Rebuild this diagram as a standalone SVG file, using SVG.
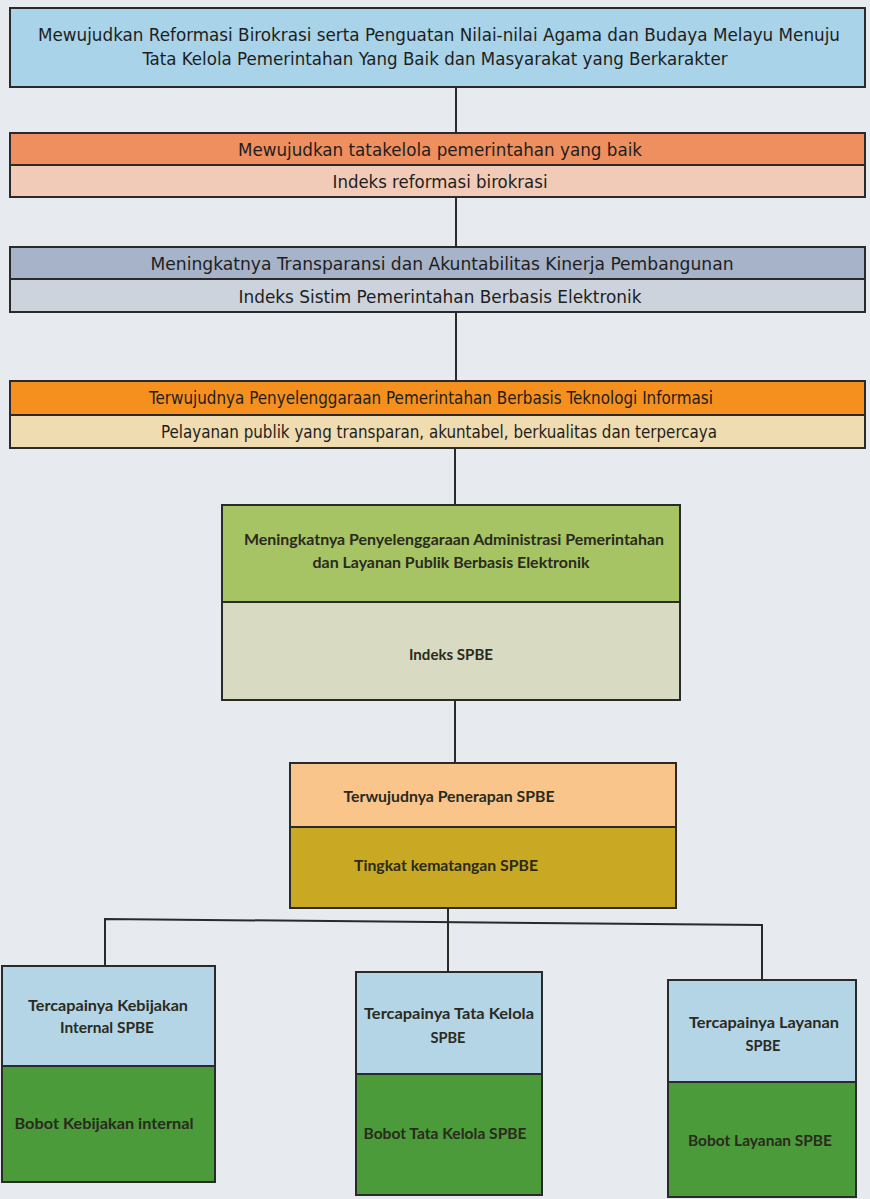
<svg xmlns="http://www.w3.org/2000/svg" width="870" height="1199" viewBox="0 0 870 1199">
<style>
.b{stroke:#2a2a2a;stroke-width:2}
.c{stroke:#2a2a2a;stroke-width:2;fill:none}
.t{font-family:"DejaVu Sans Condensed","DejaVu Sans",sans-serif;font-stretch:condensed;font-size:18px;fill:#1e1e1e;text-anchor:middle}
.s{font-family:Lato,"Open Sans",sans-serif;font-weight:bold;font-size:16px;fill:#2a2a1e;text-anchor:middle}
</style>
<rect width="870" height="1199" fill="#e7ebef"/>
<g id="connectors">
<line class="c" x1="456" y1="87" x2="456" y2="133"/>
<line class="c" x1="456" y1="197" x2="456" y2="247"/>
<line class="c" x1="456" y1="312" x2="456" y2="381"/>
<line class="c" x1="455" y1="448" x2="455" y2="505"/>
<line class="c" x1="455" y1="700" x2="455" y2="763"/>
<line class="c" x1="448" y1="908" x2="448" y2="972"/>
<polyline class="c" points="105,966 105,919 762,925 762,980"/>
</g>
<g id="n1">
<rect class="b" x="10" y="8" width="855" height="79" fill="#a8d3e8"/>
<text class="t" x="439" y="41" textLength="802" lengthAdjust="spacingAndGlyphs">Mewujudkan Reformasi Birokrasi serta Penguatan Nilai-nilai Agama dan Budaya Melayu Menuju</text>
<text class="t" x="435" y="65" textLength="585" lengthAdjust="spacingAndGlyphs">Tata Kelola Pemerintahan Yang Baik dan Masyarakat yang Berkarakter</text>
</g>
<g id="n2">
<rect class="b" x="10" y="133" width="855" height="32" fill="#ef8f5f"/>
<rect class="b" x="10" y="165" width="855" height="32" fill="#f1cbb7"/>
<text class="t" x="440" y="156" textLength="404" lengthAdjust="spacingAndGlyphs">Mewujudkan tatakelola pemerintahan yang baik</text>
<text class="t" x="440" y="188" textLength="215" lengthAdjust="spacingAndGlyphs">Indeks reformasi birokrasi</text>
</g>
<g id="n3">
<rect class="b" x="10" y="247" width="855" height="32" fill="#a7b3c8"/>
<rect class="b" x="10" y="279" width="855" height="33" fill="#cdd3dd"/>
<text class="t" x="442" y="270" textLength="583" lengthAdjust="spacingAndGlyphs">Meningkatnya Transparansi dan Akuntabilitas Kinerja Pembangunan</text>
<text class="t" x="440" y="303" textLength="403" lengthAdjust="spacingAndGlyphs">Indeks Sistim Pemerintahan Berbasis Elektronik</text>
</g>
<g id="n4">
<rect class="b" x="10" y="381" width="855" height="34" fill="#f5901f"/>
<rect class="b" x="10" y="415" width="855" height="33" fill="#efdcb1"/>
<text class="t" x="431" y="404" style="font-size:17px" textLength="564" lengthAdjust="spacingAndGlyphs">Terwujudnya Penyelenggaraan Pemerintahan Berbasis Teknologi Informasi</text>
<text class="t" x="439" y="438" style="font-size:17px" textLength="556" lengthAdjust="spacingAndGlyphs">Pelayanan publik yang transparan, akuntabel, berkualitas dan terpercaya</text>
</g>
<g id="n5">
<rect class="b" x="222" y="505" width="458" height="97" fill="#a6c464"/>
<rect class="b" x="222" y="602" width="458" height="98" fill="#d8dbc1"/>
<text class="s" x="454" y="545" textLength="420" lengthAdjust="spacingAndGlyphs">Meningkatnya Penyelenggaraan Administrasi Pemerintahan</text>
<text class="s" x="451" y="568" textLength="277" lengthAdjust="spacingAndGlyphs">dan Layanan Publik Berbasis Elektronik</text>
<text class="s" x="451" y="660" textLength="84" lengthAdjust="spacingAndGlyphs">Indeks SPBE</text>
</g>
<g id="n6">
<rect class="b" x="290" y="763" width="386" height="64" fill="#f9c58b"/>
<rect class="b" x="290" y="827" width="386" height="81" fill="#c9a824"/>
<text class="s" x="449" y="802" textLength="211" lengthAdjust="spacingAndGlyphs">Terwujudnya Penerapan SPBE</text>
<text class="s" x="446" y="871" textLength="184" lengthAdjust="spacingAndGlyphs">Tingkat kematangan SPBE</text>
</g>
<g id="n7">
<rect class="b" x="2" y="966" width="213" height="100" fill="#b4d5e6"/>
<rect class="b" x="2" y="1066" width="213" height="116" fill="#4b9b3b"/>
<text class="s" x="108" y="1011" textLength="160" lengthAdjust="spacingAndGlyphs">Tercapainya Kebijakan</text>
<text class="s" x="107" y="1033" textLength="94" lengthAdjust="spacingAndGlyphs">Internal SPBE</text>
<text class="s" x="104" y="1129" textLength="179" lengthAdjust="spacingAndGlyphs">Bobot  Kebijakan internal</text>
</g>
<g id="n8">
<rect class="b" x="356" y="972" width="186" height="102" fill="#b4d5e6"/>
<rect class="b" x="356" y="1074" width="186" height="121" fill="#4b9b3b"/>
<text class="s" x="449" y="1019" textLength="170" lengthAdjust="spacingAndGlyphs">Tercapainya Tata Kelola</text>
<text class="s" x="448" y="1043" textLength="35" lengthAdjust="spacingAndGlyphs">SPBE</text>
<text class="s" x="445" y="1139" textLength="163" lengthAdjust="spacingAndGlyphs">Bobot Tata Kelola SPBE</text>
</g>
<g id="n9">
<rect class="b" x="668" y="980" width="188" height="102" fill="#b4d5e6"/>
<rect class="b" x="668" y="1082" width="188" height="115" fill="#4b9b3b"/>
<text class="s" x="764" y="1028" textLength="150" lengthAdjust="spacingAndGlyphs">Tercapainya Layanan</text>
<text class="s" x="763" y="1051" textLength="35" lengthAdjust="spacingAndGlyphs">SPBE</text>
<text class="s" x="760" y="1146" textLength="144" lengthAdjust="spacingAndGlyphs">Bobot Layanan SPBE</text>
</g>
</svg>
